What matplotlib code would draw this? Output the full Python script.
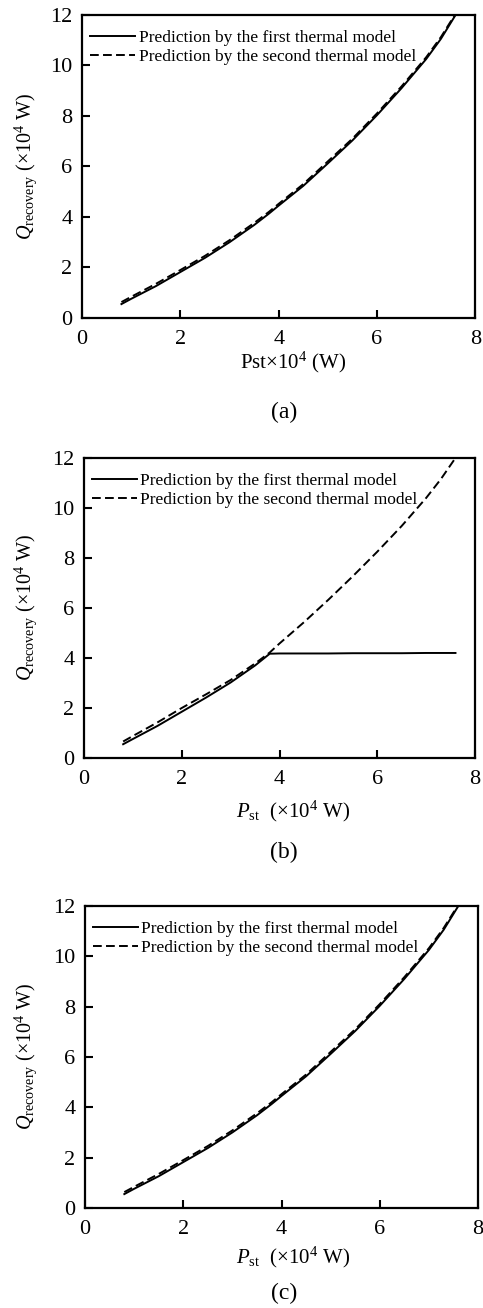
import numpy as np
import matplotlib
matplotlib.use("Agg")
import matplotlib.pyplot as plt

plt.rcParams['font.family'] = ['Liberation Serif', 'DejaVu Serif']
plt.rcParams['mathtext.fontset'] = 'custom'
plt.rcParams['mathtext.rm'] = 'Liberation Serif'
plt.rcParams['mathtext.it'] = 'Liberation Serif:italic'
plt.rcParams['mathtext.bf'] = 'Liberation Serif:bold'

# Steam power P_st (x10^4 W)
p_st = [0.8, 1.0, 1.5, 2.0, 2.5, 3.0, 3.5, 3.8, 4.0, 4.5, 5.0, 5.5, 6.0, 6.5, 7.0, 7.3, 7.6]

# Q_recovery (x10^4 W), panels (a) and (c)
q_first_a = [0.55, 0.76, 1.26, 1.82, 2.38, 3.0, 3.68, 4.13, 4.45, 5.23, 6.12, 7.03, 8.03, 9.1, 10.25, 11.05, 12.0]
q_second_a = [0.63, 0.84, 1.35, 1.9, 2.46, 3.08, 3.76, 4.2, 4.52, 5.3, 6.2, 7.1, 8.1, 9.17, 10.32, 11.12, 12.05]

# panel (b): first model saturates at ~4.2
q_first_b = [0.55, 0.76, 1.28, 1.85, 2.42, 3.02, 3.7, 4.17, 4.18, 4.18, 4.18, 4.19, 4.19, 4.19, 4.2, 4.2, 4.2]
q_second_b = [0.66, 0.88, 1.42, 2.0, 2.55, 3.12, 3.78, 4.22, 4.58, 5.43, 6.33, 7.27, 8.25, 9.28, 10.4, 11.15, 12.0]

xticks = [0, 2, 4, 6, 8]
yticks = [0, 2, 4, 6, 8, 10, 12]
labels = ["Prediction by the first thermal model", "Prediction by the second thermal model"]

panels = [
    (q_first_a, q_second_a, r"Pst$\times$10$^{4}$ (W)", "(a)"),
    (q_first_b, q_second_b, r"$\mathit{P}_{\mathrm{st}}$  ($\times$10$^{4}$ W)", "(b)"),
    (q_first_a, q_second_a, r"$\mathit{P}_{\mathrm{st}}$  ($\times$10$^{4}$ W)", "(c)"),
]

# axes rectangles [left, bottom, width, height] in figure fractions
rects = [
    [0.170, 0.7569, 0.814, 0.2317],
    [0.174, 0.4205, 0.8095, 0.2294],
    [0.176, 0.0765, 0.8137, 0.2309],
]
xlabel_y = [362, 811, 1257]
caption_y = [412, 852, 1293]

W, H = 483, 1308
fig = plt.figure(figsize=(W / 100, H / 100), dpi=100)

for (q1, q2, xl, cap), rect, xly, cy in zip(panels, rects, xlabel_y, caption_y):
    ax = fig.add_axes(rect)
    ax.plot(p_st, q1, color='black', lw=1.4, label=labels[0])
    ax.plot(p_st, q2, color='black', lw=1.4, ls=(0, (4.5, 2.2)), label=labels[1])
    ax.set_xlim(0, 8)
    ax.set_ylim(0, 12)
    ax.set_xticks(xticks)
    ax.set_yticks(yticks)
    ax.tick_params(direction='in', length=5.5, width=1.5, labelsize=16, pad=7,
                   top=False, right=False)
    ax.tick_params(axis='x', pad=9)
    for s in ax.spines.values():
        s.set_linewidth(1.6)
    ax.legend(loc='upper left', bbox_to_anchor=(0.02, 0.95), frameon=False,
              fontsize=12.5, handlelength=2.6, handletextpad=0.2,
              labelspacing=0.17, borderaxespad=0.0, borderpad=0.0)
    # y label, x label and panel caption placed in figure pixels
    yc = 1 - (rect[1] + rect[3] / 2)
    fig.text(26 / W, 1 - yc, r"$\mathit{Q}_{\mathrm{recovery}}$ ($\times$10$^{4}$ W)",
             rotation=90, ha='center', va='center', fontsize=14.5)
    fig.text(293 / W, 1 - xly / H, xl, ha='center', va='center', fontsize=15)
    fig.text(284 / W, 1 - cy / H, cap, ha='center', va='center', fontsize=17)

fig.savefig("out.png", dpi=100)
